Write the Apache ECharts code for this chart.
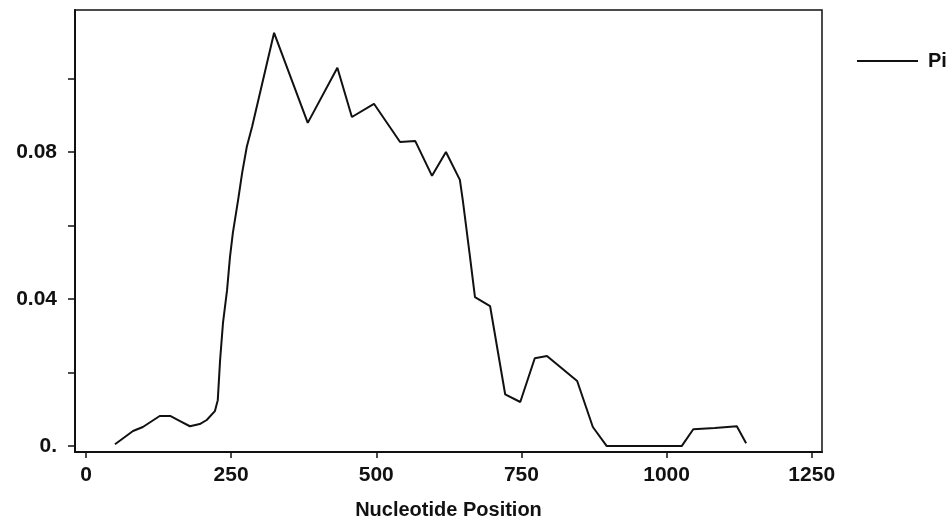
<!DOCTYPE html>
<html>
<head>
<meta charset="utf-8">
<script src="https://cdn.jsdelivr.net/npm/echarts@6/dist/echarts.min.js"></script>
<style>
html,body{margin:0;padding:0;background:#fff;}
#chart{width:952px;height:519px;}
</style>
</head>
<body>
<div id="chart"></div>
<script>
// Nucleotide positions (x) and Pi values (y)
const positions = [50, 81, 98, 127, 145, 162, 179, 196, 208, 222, 227, 231, 236, 243, 248, 253, 262, 269, 277, 286,
  324, 382, 433, 458, 496, 541, 567, 596, 620, 644, 649, 661, 670, 696, 722, 748, 773, 794, 846, 873,
  897, 1026, 1046, 1083, 1121, 1137];
const piValues = [0.0005, 0.0041, 0.0052, 0.0082, 0.0082, 0.0068, 0.0054, 0.0060, 0.0071, 0.0095, 0.0125, 0.0234, 0.0335, 0.0424, 0.0514, 0.0580, 0.0669, 0.0743, 0.0814, 0.0868,
  0.1124, 0.0879, 0.1029, 0.0895, 0.0931, 0.0827, 0.0830, 0.0735, 0.0800, 0.0724, 0.0669, 0.0520, 0.0405, 0.0381, 0.0141, 0.0120, 0.0239, 0.0245, 0.0177, 0.0052,
  0.0000, 0.0000, 0.0046, 0.0049, 0.0054, 0.0008];
const xTicks = [0, 250, 500, 750, 1000, 1250];
const yTicks = [0, 0.02, 0.04, 0.06, 0.08, 0.10];
const yLabels = [0, 0.04, 0.08];
const seriesName = 'Pi';
const xName = 'Nucleotide Position';

const data = positions.map((p, i) => [p, piValues[i]]);
const FONT = '"Liberation Sans", Arial, sans-serif';

const chart = echarts.init(document.getElementById('chart'), null, {renderer: 'canvas'});
chart.setOption({
  backgroundColor: '#ffffff',
  animation: false,
  grid: {left: 75, right: 130, top: 10, bottom: 67, show: true, borderColor: '#111', borderWidth: 1.5,
         containLabel: false, outerBoundsMode: 'none'},
  legend: {
    show: true,
    left: 852, top: 46,
    itemWidth: 61, itemHeight: 2,
    icon: 'rect',
    data: [{name: seriesName, icon: 'rect'}],
    itemStyle: {color: '#111'},
    textStyle: {fontFamily: FONT, fontWeight: 'bold', fontSize: 20, color: '#111', padding: [0, 0, 0, 5]}
  },
  xAxis: {
    type: 'value',
    min: -18.9, max: 1267.7,
    name: xName, nameLocation: 'middle', nameGap: 48,
    nameTextStyle: {fontFamily: FONT, fontWeight: 'bold', fontSize: 20, color: '#111'},
    axisLine: {show: true, onZero: false, lineStyle: {color: '#111', width: 2}},
    axisTick: {show: true, length: 6, customValues: xTicks, lineStyle: {color: '#111', width: 1.5}},
    axisLabel: {customValues: xTicks, margin: 13, fontFamily: FONT, fontWeight: 'bold', fontSize: 21, color: '#111',
      formatter: v => String(v)},
    splitLine: {show: false}
  },
  yAxis: {
    type: 'value',
    min: -0.0016, max: 0.1186,
    axisLine: {show: true, onZero: false, lineStyle: {color: '#111', width: 2}},
    axisTick: {show: true, length: 7, customValues: yTicks, lineStyle: {color: '#111', width: 1.5}},
    axisLabel: {
      customValues: yLabels, margin: 18, fontFamily: FONT, fontWeight: 'bold', fontSize: 21, color: '#111',
      formatter: v => v === 0 ? '0.' : v.toFixed(2)
    },
    splitLine: {show: false}
  },
  series: [{
    name: seriesName,
    type: 'line',
    data: data,
    symbol: 'none',
    lineStyle: {color: '#111', width: 2},
    itemStyle: {color: '#111'}
  }]
});
</script>
</body>
</html>
